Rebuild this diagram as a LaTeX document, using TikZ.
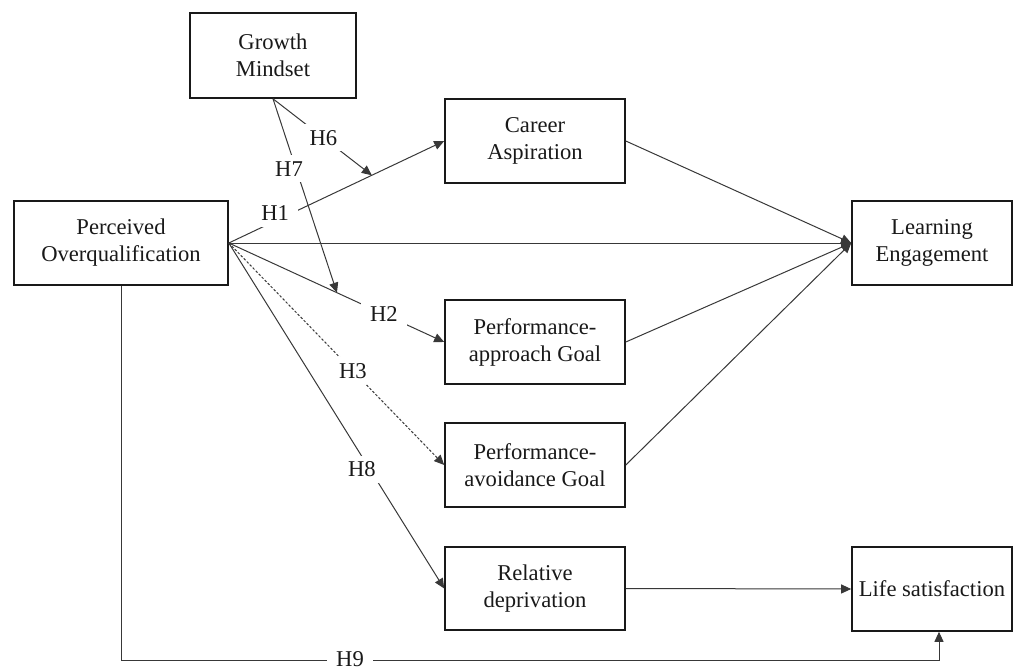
\documentclass[tikz,border=0pt]{standalone}
\usepackage{fontspec}
\setmainfont{Liberation Serif}
\usetikzlibrary{arrows.meta}
\begin{document}
\begin{tikzpicture}[x=1pt,y=-1pt,
  box/.style={draw=black!90,line width=1.6pt,align=center,inner sep=0pt,
    font=\fontsize{22.6}{27}\selectfont,text=black!90},
  conn/.style={draw=black!78,line width=1pt},
  arr/.style={conn,-{Triangle[length=10pt,width=9pt]}},
  lab/.style={fill=white,inner xsep=9pt,inner ysep=6pt,
    font=\fontsize{22.6}{27}\selectfont,text=black!90}]
\useasboundingbox (0,0) rectangle (1013,667);
\node[box,minimum width=214pt,minimum height=84pt] (po) at (121,243) {Perceived\\Overqualification};
\node[box,minimum width=166pt,minimum height=85pt] (gm) at (273,55.5) {Growth\\Mindset};
\node[box,minimum width=180pt,minimum height=84pt] (ca) at (535,141) {Career\\Aspiration};
\node[box,minimum width=180pt,minimum height=84pt] (pa) at (535,342) {Performance-\\approach Goal};
\node[box,minimum width=180pt,minimum height=84pt] (pv) at (535,465) {Performance-\\avoidance Goal};
\node[box,minimum width=180pt,minimum height=83pt] (rd) at (535,588.5) {Relative\\deprivation};
\node[box,minimum width=160pt,minimum height=84pt] (le) at (932,243) {Learning\\Engagement};
\node[box,minimum width=160pt,minimum height=84pt] (ls) at (932,589) {Life satisfaction};
% paths to outcomes
\draw[arr] (ca.east) -- (le.west);
\draw[arr] (pa.east) -- (le.west);
\draw[arr] (pv.east) -- (le.west);
\draw[arr] (po.east) -- (le.west);
\draw[arr] (rd.east) -- (ls.west);
% hypotheses from PO
\draw[arr] (po.east) -- node[lab,pos=0.215,yshift=8pt] (h1) {H1} coordinate[pos=0.664] (m6) (ca.west);
\draw[arr] (po.east) -- node[lab,pos=0.72] (h2) {H2} coordinate[pos=0.502] (m7) (pa.west);
\draw[arr,dash pattern=on 2.5pt off 1.8pt] (po.east) -- node[lab,pos=0.576] (h3) {H3} (pv.west);
\draw[arr] (po.east) -- node[lab,pos=0.655,xshift=-8pt] (h8) {H8} (rd.west);
% moderation by growth mindset
\draw[arr] (gm.south) -- node[lab,pos=0.51] (h6) {H6} (m6);
\draw[arr] (gm.south) -- node[lab,pos=0.36,xshift=-7pt] (h7) {H7} (m7);
% H9
\coordinate (c9) at (939,660);
\draw[arr] (po.south) |- node[lab,pos=0.64,inner ysep=2pt,yshift=1pt] (h9) {H9} (c9) -- (c9 |- ls.south);
\end{tikzpicture}
\end{document}
